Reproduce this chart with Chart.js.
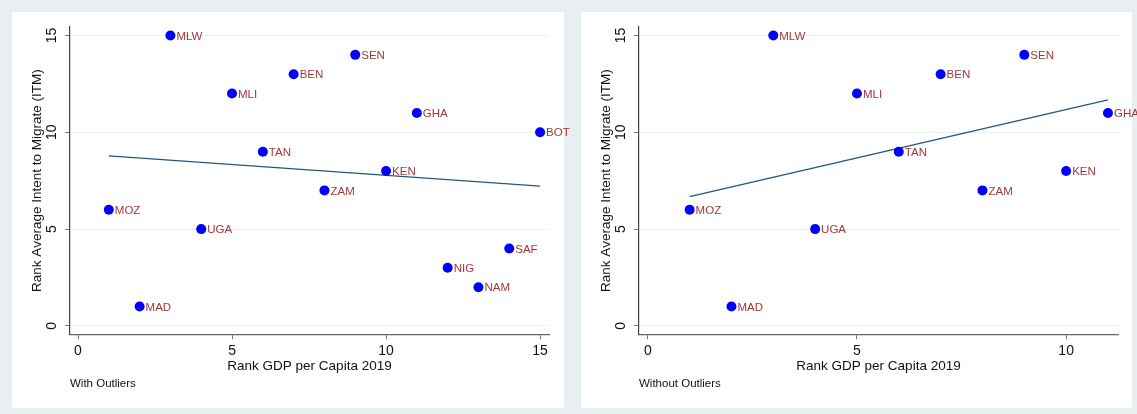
<!DOCTYPE html>
<html>
<head>
<meta charset="utf-8">
<script src="https://cdn.jsdelivr.net/npm/chart.js@4/dist/chart.umd.min.js"></script>
<style>
  html, body { margin: 0; padding: 0; }
  body { width: 1137px; height: 414px; background: #e7eff1; position: relative; overflow: hidden; }
  .panel { position: absolute; top: 12px; height: 396px; background: #fff; }
  #panelWith { left: 12px; width: 552px; }
  #panelWithout { left: 581px; width: 551px; }
  canvas { position: absolute; top: 12px; }
  #chartWith { left: 12px; }
  #chartWithout { left: 581px; }
</style>
</head>
<body>
<div class="panel" id="panelWith"></div>
<div class="panel" id="panelWithout"></div>
<canvas id="chartWith" width="562" height="396"></canvas>
<canvas id="chartWithout" width="556" height="396"></canvas>
<script>
// country codes with their GDP-per-capita rank and intent-to-migrate rank
const countries = ['MLW', 'SEN', 'BEN', 'MLI', 'GHA', 'BOT', 'TAN', 'KEN', 'ZAM', 'MOZ', 'UGA', 'SAF', 'NIG', 'NAM', 'MAD'];
const gdpRank = [3, 9, 7, 5, 11, 15, 6, 10, 8, 1, 4, 14, 12, 13, 2];
const itmRank = [15, 14, 13, 12, 11, 10, 9, 8, 7, 6, 5, 4, 3, 2, 1];

// dropped from the second panel
const outliers = ['BOT', 'SAF', 'NIG', 'NAM'];

// fitted lines (endpoints)
const fitWithX = [1, 15];
const fitWithY = [8.78, 7.22];
const fitWithoutX = [1, 11];
const fitWithoutY = [6.68, 11.68];

const yTickStep = 5;
const xTickStep = 5;

const FONT = "'Liberation Sans', Arial, Helvetica, sans-serif";
const LABEL_RED = '#a1393a';

// writes the country code to the right of each marker
const pointLabels = {
  id: 'pointLabels',
  afterDatasetsDraw(chart) {
    const ctx = chart.ctx;
    const meta = chart.getDatasetMeta(0);
    const names = chart.data.datasets[0].names;
    ctx.save();
    ctx.font = '11.5px ' + FONT;
    ctx.fillStyle = LABEL_RED;
    ctx.textBaseline = 'middle';
    ctx.textAlign = 'left';
    meta.data.forEach((pt, i) => {
      ctx.fillText(names[i], pt.x + 6, pt.y + 1);
    });
    ctx.restore();
  }
};

function drawPanel(id, keep, fitX, fitY, note, xMin, xMax, padRight) {
  const pts = [];
  const names = [];
  countries.forEach((c, i) => {
    if (!keep(c)) return;
    pts.push({x: gdpRank[i], y: itmRank[i]});
    names.push(c);
  });
  const fit = fitX.map((x, i) => ({x: x, y: fitY[i]}));

  new Chart(document.getElementById(id), {
    type: 'scatter',
    data: {
      datasets: [{
        data: pts,
        names: names,
        backgroundColor: '#0000ff',
        borderWidth: 0,
        pointRadius: 5,
        order: 0
      }, {
        type: 'line',
        data: fit,
        borderColor: '#25557f',
        borderWidth: 1.3,
        pointRadius: 0,
        fill: false,
        order: 1
      }]
    },
    options: {
      responsive: false,
      animation: false,
      events: [],
      layout: { padding: { top: 15, right: padRight, left: 0, bottom: 0 } },
      plugins: {
        legend: { display: false },
        tooltip: { enabled: false },
        title: {
          display: true,
          text: note,
          position: 'bottom',
          align: 'start',
          fullSize: false,
          color: '#111',
          font: { family: FONT, size: 11.5, weight: 'normal' },
          padding: { top: 3, bottom: 17 }
        }
      },
      scales: {
        x: {
          type: 'linear',
          min: xMin,
          max: xMax,
          afterFit(scale) { scale.height = 40; },
          border: { display: true, color: '#666', width: 1.2 },
          grid: { drawOnChartArea: false, tickColor: '#777', tickLength: 5 },
          ticks: {
            stepSize: xTickStep,
            includeBounds: false,
            color: '#111',
            padding: 4,
            maxRotation: 0,
            font: { family: FONT, size: 14 }
          },
          title: {
            display: true,
            text: 'Rank GDP per Capita 2019',
            color: '#111',
            font: { family: FONT, size: 13.5 },
            padding: { top: 0, bottom: 0 }
          }
        },
        y: {
          type: 'linear',
          min: -0.43,
          max: 15.44,
          afterFit(scale) { scale.width = 58; },
          border: { display: true, color: '#444', width: 1.2 },
          grid: { color: '#e8f0f2', lineWidth: 1, tickColor: '#777', tickLength: 5 },
          ticks: {
            stepSize: yTickStep,
            includeBounds: false,
            color: '#111',
            padding: 5,
            minRotation: 90,
            maxRotation: 90,
            crossAlign: 'center',
            font: { family: FONT, size: 14 }
          },
          title: {
            display: true,
            text: 'Rank Average Intent to Migrate (ITM)',
            color: '#111',
            font: { family: FONT, size: 13.5 },
            padding: { top: 17, bottom: 0 }
          }
        }
      }
    },
    plugins: [pointLabels]
  });
}

drawPanel('chartWith', () => true, fitWithX, fitWithY, 'With Outliers', -0.26, 15.29, 25);
drawPanel('chartWithout', c => !outliers.includes(c), fitWithoutX, fitWithoutY, 'Without Outliers', -0.21, 11.24, 19);
</script>
</body>
</html>
